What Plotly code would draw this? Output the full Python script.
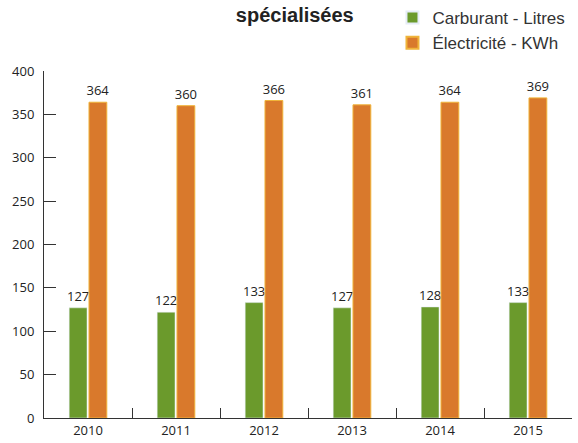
import plotly.graph_objects as go

years = ["2010", "2011", "2012", "2013", "2014", "2015"]
carburant = [127, 122, 133, 127, 128, 133]
electricite = [364, 360, 366, 361, 364, 369]

label_font = dict(family="Open Sans", size=13, color="#222")

fig = go.Figure()
fig.add_trace(go.Bar(
    x=years, y=carburant, name="Carburant - Litres",
    marker=dict(color="#6b9a2c"),
    text=[str(v) for v in carburant], textposition="outside",
    constraintext="none", textfont=label_font,
    cliponaxis=False,
))
fig.add_trace(go.Bar(
    x=years, y=electricite, name="Électricité - KWh",
    marker=dict(color="#d9792c", line=dict(color="#f0b43a", width=1)),
    text=[str(v) for v in electricite], textposition="outside",
    constraintext="none", textfont=label_font,
    cliponaxis=False,
))

fig.update_layout(
    width=578, height=443,
    margin=dict(l=44, r=6, t=71, b=25, autoexpand=False),
    paper_bgcolor="white", plot_bgcolor="white",
    barmode="group", bargap=0.55, bargroupgap=0.1,
    title=dict(text="<b>spécialisées</b>", x=0.475, xref="paper", xanchor="center",
               y=1 - 15 / 443, yanchor="middle",
               font=dict(family="Liberation Sans", size=20, color="#222")),
    legend=dict(x=0.66, y=1.0, yref="container", xanchor="left", yanchor="top",
                font=dict(family="Liberation Sans", size=17, color="#333"),
                bgcolor="rgba(0,0,0,0)", itemwidth=30, tracegroupgap=0,
                itemsizing="constant"),
    showlegend=True,
    xaxis=dict(showline=True, linecolor="#333", linewidth=1,
               ticks="inside", tickson="boundaries", ticklen=10, tickcolor="#333",
               tickfont=dict(family="Open Sans", size=13, color="#222"),
               showgrid=False, mirror=False),
    yaxis=dict(range=[0, 400], dtick=50, showline=True, linecolor="#333", linewidth=1,
               ticks="inside", ticklen=12, tickcolor="#333",
               tickfont=dict(family="Open Sans", size=13, color="#222"),
               showgrid=False, zeroline=False, ticklabelstandoff=6),
)

fig.write_html("out.html")
